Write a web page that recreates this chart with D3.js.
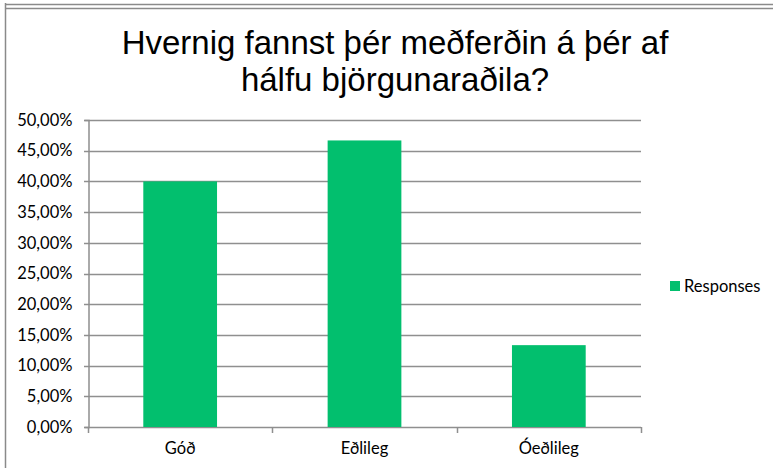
<!DOCTYPE html>
<html>
<head>
<meta charset="utf-8">
<script src="https://cdn.jsdelivr.net/npm/d3@7/dist/d3.min.js"></script>
<style>
  body { margin: 0; background: #fff; }
  svg { display: block; }
  .title { font-family: "Liberation Sans", Arial, sans-serif; font-size: 33px; fill: #000; }
  .lbl { font-family: Lato, "Open Sans", sans-serif; font-size: 16.5px; fill: #000; }
</style>
</head>
<body>
<svg id="chart" width="773" height="468"></svg>
<script>
// data
var categories = ['Góð', 'Eðlileg', 'Óeðlileg'];
var responses = [0.40, 0.4667, 0.1333];
var yTicks = [0, 0.05, 0.10, 0.15, 0.20, 0.25, 0.30, 0.35, 0.40, 0.45, 0.50];
var titleLines = ['Hvernig fannst þér meðferðin á þér af', 'hálfu björgunaraðila?'];
var seriesName = 'Responses';

var barColor = '#02bf6e';
var gridColor = '#8f8f8f';

var svg = d3.select('#chart');

// chart frame (bottom of the box above + this box)
svg.append('path')
  .attr('d', 'M5,4.5H773 M5,8.5H773 M5.5,3V468')
  .attr('stroke', '#8a8a8a').attr('stroke-width', 1.5).attr('fill', 'none');

// title
svg.append('text').attr('class', 'title')
  .attr('text-anchor', 'middle')
  .selectAll('tspan')
  .data(titleLines)
  .enter().append('tspan')
    .attr('x', 395)
    .attr('y', function(d, i) { return 54 + i * 37; })
    .text(function(d) { return d; });

var plotL = 88, plotR = 641, plotT = 120, plotB = 427;

var ys = d3.scaleLinear().domain([0, 0.5]).range([plotB, plotT]);
var xs = d3.scaleBand().domain(categories).range([plotL, plotR]).paddingInner(0.6).paddingOuter(0.3);

var locale = d3.formatLocale({ decimal: ',', thousands: '.', grouping: [3], currency: ['', ' kr'] });
var pct = locale.format('.2%');

// gridlines
svg.append('g')
  .selectAll('line')
  .data(yTicks)
  .enter().append('line')
    .attr('x1', plotL - 4).attr('x2', plotR)
    .attr('y1', function(d) { return Math.round(ys(d)) + 0.5; })
    .attr('y2', function(d) { return Math.round(ys(d)) + 0.5; })
    .attr('stroke', gridColor).attr('stroke-width', 1.5);

// y axis
var yAxis = svg.append('g')
  .attr('transform', 'translate(' + (plotL + 0.5) + ',0)')
  .call(d3.axisLeft(ys).tickValues(yTicks).tickFormat(pct).tickSize(4).tickPadding(12));
yAxis.select('.domain').attr('stroke', gridColor).attr('stroke-width', 1.5);
yAxis.selectAll('.tick line').remove();
yAxis.selectAll('.tick text').attr('class', 'lbl').attr('font-family', null).attr('font-size', null);
yAxis.attr('font-family', null).attr('font-size', null);

// bars
svg.append('g')
  .selectAll('rect')
  .data(responses)
  .enter().append('rect')
    .attr('x', function(d, i) { return xs(categories[i]); })
    .attr('y', function(d) { return ys(d); })
    .attr('width', xs.bandwidth())
    .attr('height', function(d) { return ys(0) - ys(d); })
    .attr('fill', barColor);

// x axis: ticks between categories
var bounds = d3.range(categories.length + 1).map(function(i) { return plotL + i * (plotR - plotL) / categories.length; });
svg.append('g')
  .selectAll('line')
  .data(bounds)
  .enter().append('line')
    .attr('x1', function(d) { return Math.round(d) + 0.5; })
    .attr('x2', function(d) { return Math.round(d) + 0.5; })
    .attr('y1', plotB).attr('y2', plotB + 6)
    .attr('stroke', gridColor).attr('stroke-width', 1.5);

svg.append('g')
  .selectAll('text')
  .data(categories)
  .enter().append('text')
    .attr('class', 'lbl')
    .attr('text-anchor', 'middle')
    .attr('x', function(d) { return xs(d) + xs.bandwidth() / 2; })
    .attr('y', 454)
    .text(function(d) { return d; });

// legend
var legend = svg.append('g').attr('transform', 'translate(670,281)');
legend.append('rect').attr('width', 10).attr('height', 10).attr('fill', barColor);
legend.append('text').attr('class', 'lbl').attr('x', 14).attr('y', 11).text(seriesName);
</script>
</body>
</html>
